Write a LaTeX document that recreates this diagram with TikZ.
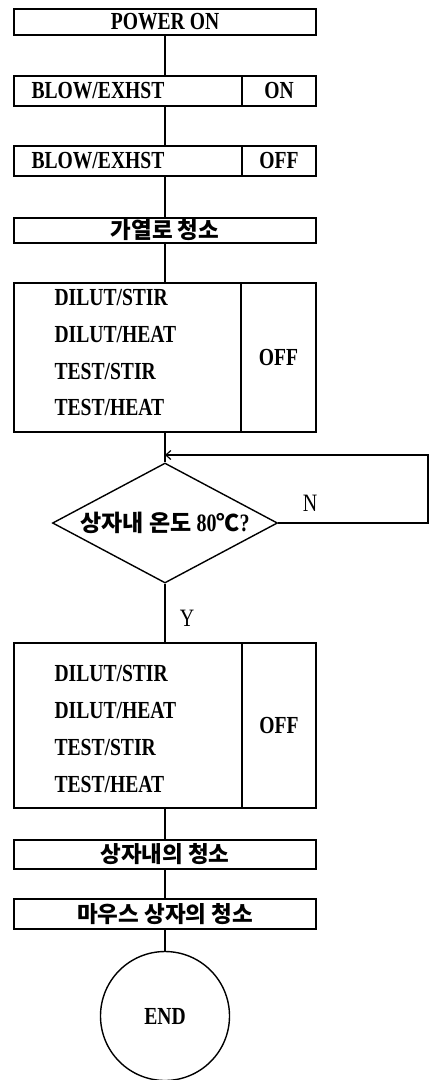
\documentclass[tikz,border=0pt]{standalone}
\usepackage{fontspec}
\setmainfont{Liberation Serif}[FakeStretch=0.8]
\newfontfamily\kr{Noto Sans CJK KR}
\usetikzlibrary{shapes.geometric,arrows.meta,positioning}

\tikzset{
  every node/.style={inner sep=0pt},
  box/.style={draw, line width=1.4pt, minimum width=302pt},
  cell/.style={draw, line width=1.4pt, minimum width=74pt, anchor=east},
  en/.style={font=\bfseries\fontsize{24.5}{37}\selectfont},
  ko/.style={font=\kr\bfseries\fontsize{22.5}{22.5}\selectfont},
  yn/.style={font=\fontsize{25}{25}\selectfont},
  decide/.style={draw, diamond, line width=1.4pt, minimum width=225pt,
    minimum height=120pt, aspect=1.875},
  finish/.style={draw, circle, line width=1.4pt, minimum size=129pt},
  link/.style={line width=1.2pt}
}

\begin{document}
\begin{tikzpicture}[x=1pt, y=-1pt]
    \useasboundingbox (0,0) rectangle (430,1080);
    % steps
    \node[box, minimum height=26pt, en] (pwr) at (165,22) {POWER ON};
    \node[box, minimum height=30pt] (blon) at (165,91) {};
    \node[cell, minimum height=30pt, en] (blonv) at (blon.east) {ON};
    \node[en, right=18pt of blon.west] (blont) {BLOW/EXHST};
    \node[box, minimum height=30pt] (bloff) at (165,161) {};
    \node[cell, minimum height=30pt, en] (bloffv) at (bloff.east) {OFF};
    \node[en, right=18pt of bloff.west] (blofft) {BLOW/EXHST};
    \node[box, minimum height=25pt, ko] (furn) at (165,230.5) {가열로 청소};
    \node[box, minimum height=149pt] (htra) at (165,357.5) {};
    \node[cell, minimum height=149pt, en, minimum width=75pt] (htrav) at (htra.east) {OFF};
    \node[en, align=left, right=41pt of htra.west, yshift=5pt] (htrat)
        {DILUT/STIR\\DILUT/HEAT\\TEST/STIR\\TEST/HEAT};
    % check
    \node[decide] (temp) at (165,523)
        {\kr\bfseries\fontsize{23}{23}\selectfont 상자내 온도 {\rmfamily\fontsize{25}{25}\selectfont 80}℃{\rmfamily\fontsize{25}{25}\selectfont ?}};
    \node[yn] (no) at (310,503) {N};
    \node[yn] (yes) at (187,618) {Y};
    \coordinate (loop) at (428,455);
    \coordinate (join) at (165,455);
    \node[box, minimum height=165pt] (htrb) at (165,725.5) {};
    \node[cell, minimum height=165pt, en] (htrbv) at (htrb.east) {OFF};
    \node[en, align=left, right=41pt of htrb.west, yshift=-3.5pt] (htrbt)
        {DILUT/STIR\\DILUT/HEAT\\TEST/STIR\\TEST/HEAT};
    \node[box, minimum height=29pt, ko] (room) at (165,854.5) {상자내의 청소};
    \node[box, minimum height=30pt, ko] (mouse) at (165,914) {마우스~상자의~청소};
    \node[finish, en] (fin) at (165,1016) {END};
    % lines
    \draw[link] (pwr) -- (blon);
    \draw[link] (blon) -- (bloff);
    \draw[link] (bloff) -- (furn);
    \draw[link] (furn) -- (htra);
    \draw[link] (htra) -- (temp);
    \draw[link, -{Straight Barb[length=5pt, width=9pt]}] (temp.east) -| (loop) -- (join);
    \draw[link] (temp) -- (htrb);
    \draw[link] (htrb) -- (room);
    \draw[link] (room) -- (mouse);
    \draw[link] (mouse) -- (fin);
\end{tikzpicture}
\end{document}
